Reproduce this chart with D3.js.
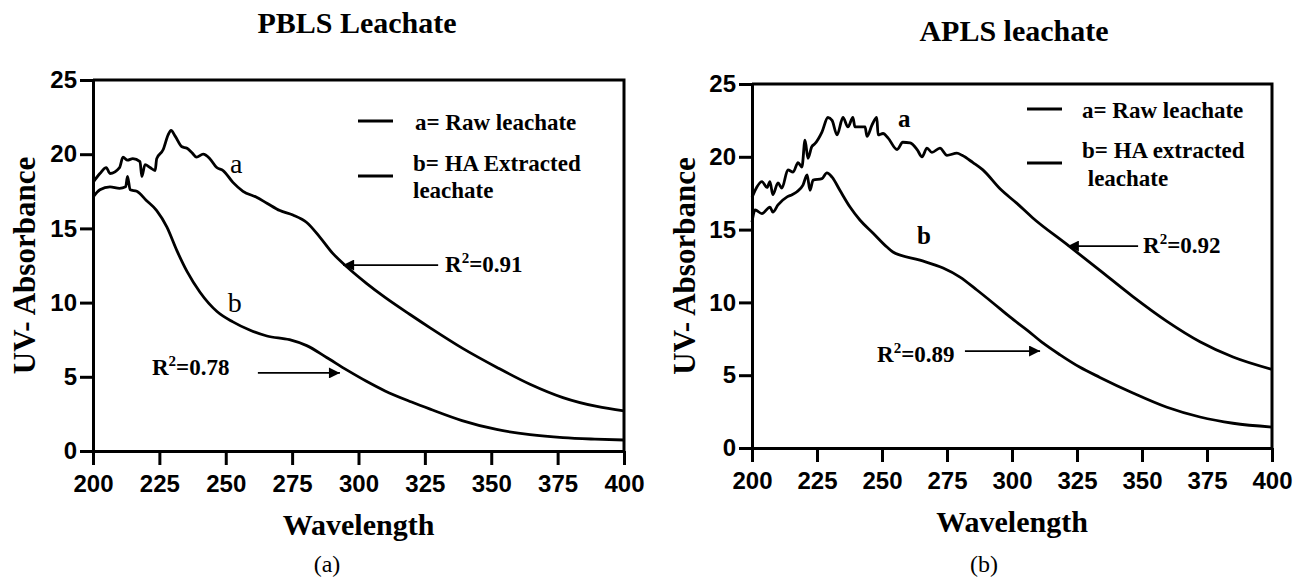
<!DOCTYPE html>
<html>
<head>
<meta charset="utf-8">
<script src="https://cdn.jsdelivr.net/npm/d3@7"></script>
<style>
  body { margin: 0; background: #fff; }
  text { fill: #000; }
</style>
</head>
<body>
<div id="chart"></div>
<script>
// wavelength ticks and absorbance ticks
var xTicks = [200, 225, 250, 275, 300, 325, 350, 375, 400];
var yTicks = [0, 5, 10, 15, 20, 25];

// (a) PBLS leachate - raw
var wlPbRaw = [200, 202.6, 205, 206.4, 210, 211.3, 213, 215, 217.7, 218.4, 219.6, 221.5, 223.4, 224, 226.4, 228.3, 229.4, 231, 233.5, 235.4, 237.3, 239, 241.5, 244, 246.6, 249, 252.7, 256.5, 261.6, 265.5, 270.4, 275.3, 280.5, 285.5, 290.4, 295.7, 303, 310, 319.4, 327, 339.4, 352, 364.6, 377, 389.8, 400];
var absPbRaw = [18.1, 18.7, 19.1, 18.7, 19.1, 19.8, 19.6, 19.7, 19.5, 18.5, 19.3, 19.1, 18.9, 19.7, 20.3, 21.3, 21.6, 21.2, 20.5, 20.4, 20.1, 19.8, 20.0, 19.7, 19.1, 18.9, 18.1, 17.5, 17.1, 16.7, 16.2, 15.9, 15.4, 14.4, 13.3, 12.4, 11.3, 10.35, 9.2, 8.3, 6.9, 5.65, 4.5, 3.6, 3.0, 2.7];

// (a) PBLS leachate - HA extracted
var wlPbHa = [200, 202.6, 206.4, 210, 212.3, 213, 214, 216.5, 220, 224, 227.8, 231.6, 235.4, 240.3, 246.7, 252.7, 259, 265.5, 274, 280.5, 288, 295.7, 303, 310, 320, 327, 339, 352, 364.6, 377, 389, 400];
var absPbHa = [17.1, 17.6, 17.8, 17.7, 17.8, 18.5, 17.6, 17.5, 16.9, 16.2, 15.1, 13.5, 12.1, 10.7, 9.4, 8.7, 8.15, 7.75, 7.5, 7.1, 6.3, 5.45, 4.7, 4.05, 3.3, 2.82, 2.05, 1.45, 1.1, 0.9, 0.8, 0.74];

// (b) APLS leachate - raw
var wlApRaw = [200, 201.2, 203.8, 205.8, 206.9, 208, 210, 211.5, 213.8, 215.8, 217.7, 219.2, 220.4, 221.5, 223, 224.2, 226.9, 229.2, 230.8, 232.7, 235, 236.9, 238.8, 239.6, 243.5, 244.2, 246.2, 248, 248.5, 250.4, 252.3, 255.8, 258, 260.8, 263.5, 265.4, 267.3, 269.2, 272.3, 275, 278.8, 280.8, 285, 288.8, 295.4, 301.9, 308, 321, 333.8, 346.5, 359.6, 372.3, 385, 400];
var absApRaw = [17.2, 17.7, 18.3, 17.9, 18.3, 17.4, 18.2, 17.85, 19.1, 18.95, 19.6, 19.3, 21.15, 19.9, 20.7, 20.9, 21.7, 22.7, 22.5, 21.5, 22.7, 22.05, 22.7, 22.05, 22.05, 21.4, 22.2, 22.7, 21.5, 21.6, 21.3, 20.5, 21.0, 20.95, 20.5, 20.0, 20.6, 20.3, 20.6, 20.1, 20.25, 20.1, 19.6, 19.1, 17.8, 16.8, 15.8, 14.0, 12.2, 10.4, 8.7, 7.3, 6.25, 5.4];

// (b) APLS leachate - HA extracted
var wlApHa = [200, 201.2, 203.8, 206.9, 208, 210, 213.5, 215.4, 217.3, 219.6, 221.2, 222.3, 223.5, 226.9, 228.8, 230.8, 233.8, 237.7, 241.5, 246.5, 251.9, 254.2, 264.6, 273.5, 280, 286.5, 292.7, 299.2, 305.8, 312, 318.5, 326, 333.8, 346.5, 359.6, 372.3, 385, 400];
var absApHa = [15.5, 16.35, 16.1, 16.55, 16.2, 16.7, 17.25, 17.4, 17.6, 18.06, 18.75, 17.7, 18.4, 18.5, 18.9, 18.6, 17.7, 16.55, 15.66, 14.77, 13.8, 13.46, 12.9, 12.36, 11.74, 10.85, 9.96, 9.0, 8.1, 7.2, 6.4, 5.56, 4.85, 3.78, 2.8, 2.13, 1.7, 1.44];

var svg = d3.select('#chart').append('svg')
    .attr('width', 1306)
    .attr('height', 583);

svg.append('defs').append('marker')
    .attr('id', 'head')
    .attr('viewBox', '0 0 10 10')
    .attr('refX', 10).attr('refY', 5)
    .attr('markerWidth', 15).attr('markerHeight', 11)
    .attr('markerUnits', 'userSpaceOnUse')
    .attr('orient', 'auto')
  .append('path')
    .attr('d', 'M0,0 L10,5 L0,10 Z')
    .attr('fill', '#000');

var serif = '"Liberation Serif", "Times New Roman", serif';
var sans = '"Liberation Sans", Arial, sans-serif';

function panel(o) {
    var x = d3.scaleLinear().domain([200, 400]).range([o.x0, o.x1]);
    var y = d3.scaleLinear().domain([0, 25]).range([o.y0, o.y1]);
    var g = svg.append('g');

    // title
    g.append('text').text(o.title)
        .attr('x', o.titleX).attr('y', o.titleY)
        .attr('text-anchor', 'middle')
        .style('font-family', serif).style('font-weight', 'bold').style('font-size', '30px');

    // frame (top, right)
    g.append('path')
        .attr('d', 'M' + o.x0 + ',' + o.y1 + 'H' + o.x1 + 'V' + o.y0)
        .attr('fill', 'none').attr('stroke', '#000').attr('stroke-width', 3);

    var xAxis = g.append('g')
        .attr('transform', 'translate(0,' + o.y0 + ')')
        .call(d3.axisBottom(x).tickValues(xTicks).tickSize(14).tickSizeOuter(0).tickPadding(10));
    var yAxis = g.append('g')
        .attr('transform', 'translate(' + o.x0 + ',0)')
        .call(d3.axisLeft(y).tickValues(yTicks).tickSize(13).tickSizeOuter(0).tickPadding(3));
    [xAxis, yAxis].forEach(function(a) {
        a.selectAll('path, line').attr('stroke', '#000').attr('stroke-width', 3);
        a.selectAll('text').attr('fill', '#000')
            .style('font-family', sans).style('font-weight', 'bold').style('font-size', '24px');
    });

    // axis titles
    g.append('text').text('Wavelength')
        .attr('x', (o.x0 + o.x1) / 2).attr('y', o.y0 + 84)
        .attr('text-anchor', 'middle')
        .style('font-family', serif).style('font-weight', 'bold').style('font-size', '30px');
    g.append('text').text('UV- Absorbance')
        .attr('transform', 'translate(' + o.yTitleX + ',' + (o.y0 + o.y1) / 2 + ') rotate(-90)')
        .attr('text-anchor', 'middle')
        .style('font-family', serif).style('font-weight', 'bold').style('font-size', '31px');
    g.append('text').text(o.sub)
        .attr('x', o.subX).attr('y', 572)
        .attr('text-anchor', 'middle')
        .style('font-family', serif).style('font-size', '24px');

    // curves
    var line = d3.line()
        .x(function(d) { return x(d[0]); })
        .y(function(d) { return y(d[1]); })
        .curve(d3.curveMonotoneX);
    o.series.forEach(function(s) {
        g.append('path')
            .datum(d3.zip(s[0], s[1]))
            .attr('d', line)
            .attr('fill', 'none').attr('stroke', '#000').attr('stroke-width', 2.8)
            .attr('stroke-linejoin', 'round');
    });

    // curve letters
    o.letters.forEach(function(l) {
        g.append('text').text(l.t)
            .attr('x', x(l.w)).attr('y', y(l.v))
            .style('font-family', serif)
            .style('font-weight', o.letterBold ? 'bold' : 'normal')
            .style('font-size', o.letterBold ? '25px' : '28px');
    });

    // R2 annotations
    o.notes.forEach(function(n) {
        var t = g.append('text')
            .attr('x', x(n.lw)).attr('y', y(n.lv))
            .style('font-family', serif).style('font-weight', 'bold').style('font-size', '23px');
        t.append('tspan').text('R');
        t.append('tspan').text('2').attr('dy', -9).style('font-size', '15px');
        t.append('tspan').text('=' + n.r).attr('dy', 9);
        g.append('line')
            .attr('x1', x(n.fw)).attr('y1', y(n.fv))
            .attr('x2', x(n.tw)).attr('y2', y(n.fv))
            .attr('stroke', '#000').attr('stroke-width', 1.8)
            .attr('marker-end', 'url(#head)');
    });

    // legend
    o.legend.forEach(function(l) {
        g.append('line')
            .attr('x1', l.lx).attr('x2', l.lx + 35)
            .attr('y1', l.ly).attr('y2', l.ly)
            .attr('stroke', '#000').attr('stroke-width', 3);
        l.rows.forEach(function(r) {
            g.append('text').text(r.t)
                .attr('x', r.x).attr('y', r.y)
                .style('font-family', serif).style('font-weight', 'bold').style('font-size', '23px')
                .style('white-space', 'pre');
        });
    });
}

panel({
    title: 'PBLS Leachate', titleX: 357, titleY: 33,
    x0: 93, x1: 624, y0: 451, y1: 80, yTitleX: 35,
    sub: '(a)', subX: 327,
    series: [[wlPbRaw, absPbRaw], [wlPbHa, absPbHa]],
    letterBold: false,
    letters: [{t: 'a', w: 251.6, v: 18.7}, {t: 'b', w: 250.8, v: 9.4}],
    notes: [
        {r: '0.91', lw: 332.6, lv: 12.06, fw: 330, fv: 12.53, tw: 294.2},
        {r: '0.78', lw: 222.2, lv: 5.12, fw: 262.1, fv: 5.26, tw: 293}
    ],
    legend: [
        {lx: 358, ly: 121, rows: [{t: 'a= Raw leachate', x: 415, y: 130}]},
        {lx: 358, ly: 176, rows: [{t: 'b= HA Extracted', x: 413, y: 171}, {t: 'leachate', x: 413, y: 198}]}
    ]
});

panel({
    title: 'APLS leachate', titleX: 1014, titleY: 41,
    x0: 752, x1: 1272, y0: 448, y1: 84, yTitleX: 695,
    sub: '(b)', subX: 984,
    series: [[wlApRaw, absApRaw], [wlApHa, absApHa]],
    letterBold: true,
    letters: [{t: 'a', w: 256.2, v: 22.05}, {t: 'b', w: 263.5, v: 14.0}],
    notes: [
        {r: '0.92', lw: 350.4, lv: 13.39, fw: 348.5, fv: 13.87, tw: 321.5},
        {r: '0.89', lw: 248.1, lv: 5.91, fw: 281.9, fv: 6.66, tw: 310.8}
    ],
    legend: [
        {lx: 1027, ly: 109, rows: [{t: 'a= Raw leachate', x: 1082, y: 118}]},
        {lx: 1027, ly: 163, rows: [{t: 'b= HA extracted', x: 1082, y: 158}, {t: ' leachate', x: 1082, y: 186}]}
    ]
});
</script>
</body>
</html>
